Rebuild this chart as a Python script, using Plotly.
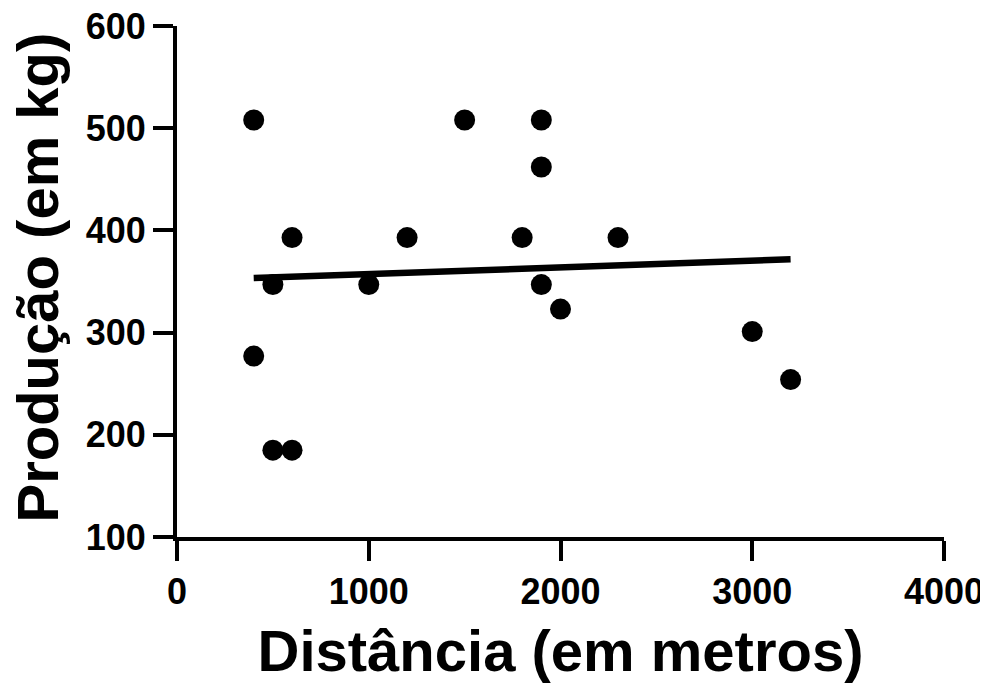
import numpy as np
import plotly.graph_objects as go

distancia = [400, 400, 500, 500, 600, 600, 1000, 1200, 1500, 1800, 1900, 1900, 1900, 2000, 2300, 3000, 3200]
producao = [508, 277, 347, 185, 185, 393, 347, 393, 508, 393, 508, 462, 347, 323, 393, 301, 254]

x_ticks = [0, 1000, 2000, 3000, 4000]
y_ticks = [100, 200, 300, 400, 500, 600]

x_title = "Distância (em metros)"
y_title = "Produção (em kg)"

# linear regression line across the data range
slope, intercept = np.polyfit(distancia, producao, 1)
fit_x = [min(distancia), max(distancia)]
fit_y = [slope * v + intercept for v in fit_x]

FONT = "Liberation Sans, Arial, sans-serif"

fig = go.Figure()
fig.add_trace(go.Scatter(
    x=distancia, y=producao, mode="markers",
    marker=dict(size=21, color="black", line=dict(width=0)),
    showlegend=False, cliponaxis=False,
))
fig.add_trace(go.Scatter(
    x=fit_x, y=fit_y, mode="lines",
    line=dict(color="black", width=6.5),
    showlegend=False,
))

# page body has an 8px margin, so the figure is sized to fit inside 988x686
fig.update_layout(
    width=980, height=678,
    margin=dict(l=169, r=44, t=18, b=149, autoexpand=False),
    plot_bgcolor="white", paper_bgcolor="white",
    font=dict(family=FONT, color="black"),
)
fig.update_xaxes(
    range=[0, 4000], tickvals=x_ticks, ticktext=[str(v) for v in x_ticks],
    showgrid=False, zeroline=False, showline=True, linecolor="black", linewidth=4,
    ticks="outside", ticklen=20, tickwidth=4, tickcolor="black",
    tickfont=dict(family=FONT, size=36, color="black", weight="bold"),
    ticklabeloverflow="allow",
    title=dict(text=x_title, font=dict(family=FONT, size=58, color="black", weight="bold"), standoff=20),
    automargin=False,
)
fig.update_yaxes(
    range=[100, 600.01], tickvals=y_ticks, ticktext=[str(v) for v in y_ticks],
    showgrid=False, zeroline=False, showline=True, linecolor="black", linewidth=4,
    ticks="outside", ticklen=20, tickwidth=4, tickcolor="black",
    tickfont=dict(family=FONT, size=36, color="black", weight="bold"),
    ticklabeloverflow="allow",
    automargin=False,
)
fig.add_annotation(
    text=y_title, textangle=-90, showarrow=False,
    xref="paper", yref="paper", x=0, y=0.5, xanchor="center", yanchor="middle",
    xshift=-140, yshift=4,
    font=dict(family=FONT, size=58, color="black", weight="bold"),
)

fig.write_html("out.html")
